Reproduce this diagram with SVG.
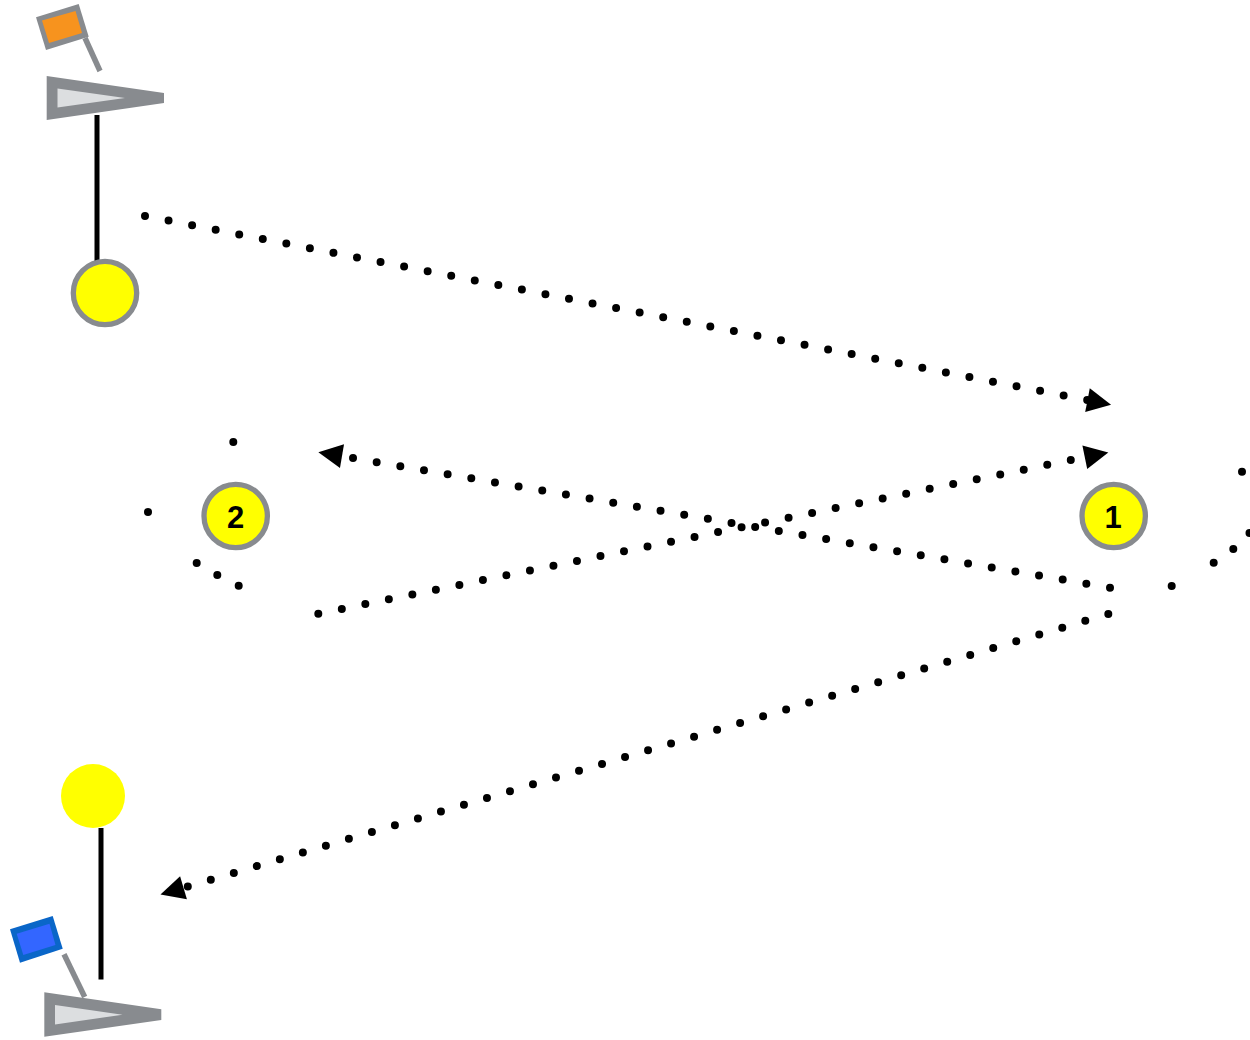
<svg xmlns="http://www.w3.org/2000/svg" width="1250" height="1040" viewBox="0 0 1250 1040">
<style>
.outer{fill:#888b8f}
.inner{fill:#dcdee0}
.pole{stroke:#888b8f;stroke-width:5.5;fill:none}
.stem{stroke:#000;stroke-width:5;fill:none}
.ball{fill:#ff0;stroke:#888b8f;stroke-width:5.3}
.label{font-family:"Liberation Sans",Arial,sans-serif;font-weight:700;font-size:31px;text-anchor:middle;fill:#000}
.dotted{fill:none;stroke:#000;stroke-width:8;stroke-linecap:round;stroke-dasharray:0 24}
.dot{fill:#000}
</style>
<defs>
<marker id="arrow" markerUnits="userSpaceOnUse" markerWidth="26" markerHeight="26" refX="0" refY="12" orient="auto" overflow="visible">
<polygon points="0,0 24,12 0,24" fill="#000"/>
</marker>
</defs>
<rect width="1250" height="1040" fill="#fff"/>
<g id="connectors">
<path class="dotted" d="M145 216L1087.5 400.1" marker-end="url(#arrow)"/>
<path class="dotted" d="M318.3 613.7L1084.8 457.2" marker-end="url(#arrow)"/>
<path class="dotted" d="M1110 587.7L342 456.2" marker-end="url(#arrow)"/>
<path class="dotted" d="M1108.3 614L183.5 887.8" marker-end="url(#arrow)"/>
<circle class="dot" cx="233.3" cy="442" r="4"/>
<circle class="dot" cx="148" cy="512" r="4"/>
<circle class="dot" cx="196.7" cy="563" r="4"/>
<circle class="dot" cx="217.3" cy="575" r="4"/>
<circle class="dot" cx="238.7" cy="585.7" r="4"/>
<circle class="dot" cx="1242" cy="471.7" r="4"/>
<circle class="dot" cx="1171.7" cy="586" r="4"/>
<circle class="dot" cx="1213.7" cy="562.7" r="4"/>
<circle class="dot" cx="1233.3" cy="549" r="4"/>
<circle class="dot" cx="1249.5" cy="533" r="4"/>
</g>
<g id="node-top">
<polygon class="outer" points="36,17.3 78.7,4 88.7,36.7 46,50"/>
<polygon fill="#f7931e" points="42,20.5 75.5,11 82,33 49,43"/>
<line class="pole" x1="85" y1="38" x2="100" y2="71"/>
<polygon class="outer" points="46.7,76 164,93 164,103 46.7,120"/>
<polygon class="inner" points="57.5,88.5 125,98 57.5,107.5"/>
<line class="stem" x1="97" y1="115" x2="97" y2="262"/>
<circle class="ball" cx="105" cy="293" r="31.7"/>
</g>
<g id="node-bottom">
<polygon fill="#0a66c8" points="10,929.3 52.7,916 62.7,948.7 20,962.7"/>
<polygon fill="#3366ff" points="16.7,933.8 49.5,923.8 55.5,945 23.3,955"/>
<line class="pole" x1="64" y1="954.3" x2="84.7" y2="997"/>
<polygon class="outer" points="44.3,992.3 161.3,1009.3 161.3,1020 44.3,1036.7"/>
<polygon class="inner" points="55,1005 122.5,1014.7 55,1024.5"/>
<line class="stem" x1="101" y1="828" x2="101" y2="979.5"/>
<circle cx="93" cy="796" r="32" fill="#ff0"/>
</g>
<g id="badge-1">
<circle class="ball" cx="1113.7" cy="516" r="31.7"/>
<text class="label" x="1113" y="527.7">1</text>
</g>
<g id="badge-2">
<circle class="ball" cx="235.7" cy="516" r="31.7"/>
<text class="label" x="235.7" y="527.7">2</text>
</g>
</svg>
